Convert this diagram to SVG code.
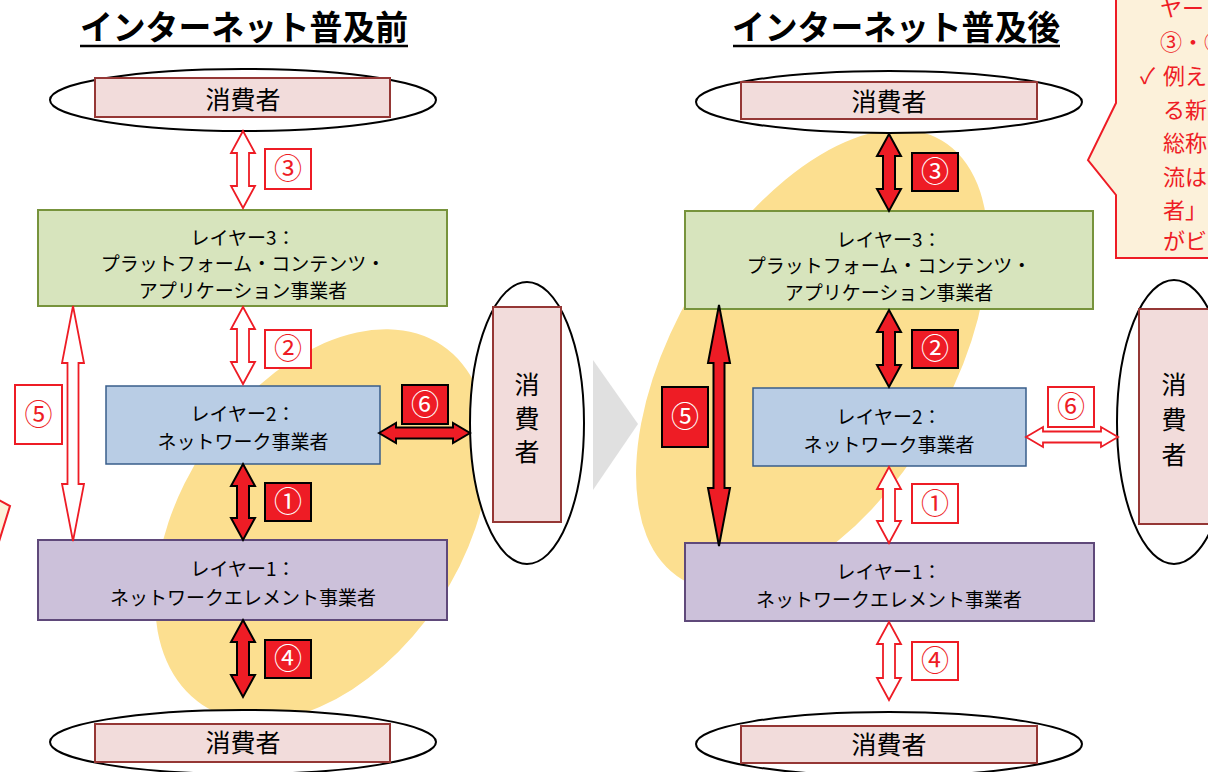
<svg xmlns="http://www.w3.org/2000/svg" width="1208" height="772" viewBox="0 0 1208 772">
<style>
text{font-family:"Noto Sans CJK JP","Noto Sans",sans-serif;fill:#000}
.title{font-size:34px;font-weight:bold;text-anchor:middle}
.bt{font-size:19px;text-anchor:middle}
.ct{font-size:25px;text-anchor:middle}
.num{font-size:28px;text-anchor:middle}
.rn{fill:#ee1c25}
.wn{fill:#fff}
.blob{fill:#fcdf90}
.ell{fill:#fff;stroke:#000;stroke-width:2}
.cons{fill:#f2dcdb;stroke:#953735;stroke-width:2}
.l3{fill:#d7e4bd;stroke:#77933c;stroke-width:2}
.l2{fill:#b9cde5;stroke:#385d8a;stroke-width:1.5}
.l1{fill:#ccc1da;stroke:#5f497a;stroke-width:2}
.ah{fill:#fff;stroke:#ee1c25;stroke-width:1.8;stroke-linejoin:miter}
.af{fill:#ee1c25;stroke:#000;stroke-width:2;stroke-linejoin:miter}
.lh{fill:#fff;stroke:#ee1c25;stroke-width:2}
.lf{fill:#ee1c25;stroke:#000;stroke-width:2}
.co{fill:#fcf1da;stroke:#ee1c25;stroke-width:2}
.ctx{font-size:22px;fill:#ee1c25}
</style>

<!-- background shapes -->
<ellipse class="blob" cx="322" cy="525" rx="216" ry="140" transform="rotate(-56.3 322 525)"/>
<ellipse class="blob" cx="812" cy="360" rx="255" ry="138" transform="rotate(-59.4 812 360)"/>
<polygon points="593,360 638,424 593,490" fill="#e0e0e0"/>
<polygon class="co" points="-3,499 10,506 -3,548"/>

<!-- titles -->
<g id="title-before">
<text class="title" x="244" y="40" textLength="328" lengthAdjust="spacingAndGlyphs">インターネット普及前</text>
<line x1="80" y1="46" x2="408" y2="46" stroke="#000" stroke-width="2.5"/>
</g>
<g id="title-after">
<text class="title" x="896" y="40" textLength="328" lengthAdjust="spacingAndGlyphs">インターネット普及後</text>
<line x1="733" y1="46" x2="1060" y2="46" stroke="#000" stroke-width="2.5"/>
</g>

<!-- LEFT nodes -->
<g id="L-consumer-top">
<ellipse class="ell" cx="243" cy="100" rx="193" ry="31"/>
<rect class="cons" x="95" y="78" width="295" height="39"/>
<text class="ct" x="243" y="109">消費者</text>
</g>
<g id="L-layer3">
<rect class="l3" x="38" y="210" width="409" height="96"/>
<text class="bt" x="243" y="245">レイヤー3：</text>
<text class="bt" x="243" y="271">プラットフォーム・コンテンツ・</text>
<text class="bt" x="243" y="298">アプリケーション事業者</text>
</g>
<g id="L-layer2">
<rect class="l2" x="106" y="386" width="274" height="78"/>
<text class="bt" x="243" y="421">レイヤー2：</text>
<text class="bt" x="243" y="449">ネットワーク事業者</text>
</g>
<g id="L-layer1">
<rect class="l1" x="38" y="540" width="409" height="80"/>
<text class="bt" x="243" y="576">レイヤー1：</text>
<text class="bt" x="243" y="605">ネットワークエレメント事業者</text>
</g>
<g id="L-consumer-bottom">
<ellipse class="ell" cx="243" cy="742" rx="193" ry="32"/>
<rect class="cons" x="95" y="724" width="295" height="38"/>
<text class="ct" x="243" y="752">消費者</text>
</g>
<g id="L-consumer-side">
<ellipse class="ell" cx="527" cy="423" rx="57" ry="141"/>
<rect class="cons" x="493" y="307" width="68" height="215"/>
<text class="ct" x="527" y="394">消</text>
<text class="ct" x="527" y="428">費</text>
<text class="ct" x="527" y="461">者</text>
</g>

<!-- RIGHT nodes -->
<g id="R-consumer-top">
<ellipse class="ell" cx="889" cy="102" rx="193" ry="31"/>
<rect class="cons" x="741" y="82" width="296" height="37"/>
<text class="ct" x="889" y="111">消費者</text>
</g>
<g id="R-layer3">
<rect class="l3" x="685" y="211" width="408" height="98"/>
<text class="bt" x="889" y="247">レイヤー3：</text>
<text class="bt" x="889" y="273">プラットフォーム・コンテンツ・</text>
<text class="bt" x="889" y="300">アプリケーション事業者</text>
</g>
<g id="R-layer2">
<rect class="l2" x="753" y="388" width="273" height="78"/>
<text class="bt" x="889" y="424">レイヤー2：</text>
<text class="bt" x="889" y="452">ネットワーク事業者</text>
</g>
<g id="R-layer1">
<rect class="l1" x="685" y="543" width="409" height="78"/>
<text class="bt" x="889" y="579">レイヤー1：</text>
<text class="bt" x="889" y="607">ネットワークエレメント事業者</text>
</g>
<g id="R-consumer-bottom">
<ellipse class="ell" cx="889" cy="744" rx="193" ry="32"/>
<rect class="cons" x="741" y="726" width="296" height="37"/>
<text class="ct" x="889" y="754">消費者</text>
</g>
<g id="R-consumer-side">
<ellipse class="ell" cx="1174" cy="422" rx="57" ry="142"/>
<rect class="cons" x="1139" y="309" width="72" height="215"/>
<text class="ct" x="1174" y="394">消</text>
<text class="ct" x="1174" y="429">費</text>
<text class="ct" x="1174" y="464">者</text>
</g>

<!-- connectors -->
<g id="connectors">
<polygon class="ah" points="243,131 255,153 249,153 249,186 255,186 243,208 231,186 237,186 237,153 231,153"/>
<polygon class="ah" points="243,307 255,329 249,329 249,362 255,362 243,384 231,362 237,362 237,329 231,329"/>
<polygon class="af" points="243,464 255,486 249,486 249,518 255,518 243,540 231,518 237,518 237,486 231,486"/>
<polygon class="af" points="243,620 255,642 249,642 249,675 255,675 243,697 231,675 237,675 237,642 231,642"/>
<polygon class="ah" points="73,306 84,363 78.5,363 78.5,484 84,484 73,541 62,484 67.5,484 67.5,363 62,363"/>
<polygon class="af" points="379,433 396,423 396,427.5 453,427.5 453,423 470,433 453,443 453,438.5 396,438.5 396,443"/>

<polygon class="af" points="889,134 901,156 895,156 895,189 901,189 889,211 877,189 883,189 883,156 877,156"/>
<polygon class="af" points="889,310 901,332 895,332 895,365 901,365 889,387 877,365 883,365 883,332 877,332"/>
<polygon class="ah" points="889,467 901,489 895,489 895,521 901,521 889,543 877,521 883,521 883,489 877,489"/>
<polygon class="ah" points="889,622 901,644 895,644 895,678 901,678 889,700 877,678 883,678 883,644 877,644"/>
<polygon class="af" points="719,305 730,363 724.5,363 724.5,488 730,488 719,546 708,488 713.5,488 713.5,363 708,363"/>
<polygon class="ah" points="1026,437 1043,427 1043,431.5 1101,431.5 1101,427 1118,437 1101,447 1101,442.5 1043,442.5 1043,447"/>
</g>

<!-- labels -->
<g id="labels">
<rect class="lh" x="265" y="149" width="46" height="40"/><text class="num rn" x="288" y="179">③</text>
<rect class="lh" x="265" y="330" width="46" height="38"/><text class="num rn" x="288" y="359">②</text>
<rect class="lf" x="265" y="483" width="46" height="38"/><text class="num wn" x="288" y="512">①</text>
<rect class="lf" x="265" y="640" width="46" height="38"/><text class="num wn" x="288" y="669">④</text>
<rect class="lh" x="15" y="385" width="47" height="59"/><text class="num rn" x="38.5" y="425">⑤</text>
<rect class="lf" x="402" y="385" width="46" height="39"/><text class="num wn" x="425" y="415">⑥</text>

<rect class="lf" x="912" y="153" width="46" height="38"/><text class="num wn" x="935" y="182">③</text>
<rect class="lf" x="912" y="330" width="46" height="38"/><text class="num wn" x="935" y="359">②</text>
<rect class="lh" x="912" y="484" width="46" height="39"/><text class="num rn" x="935" y="514">①</text>
<rect class="lh" x="912" y="642" width="46" height="38"/><text class="num rn" x="935" y="671">④</text>
<rect class="lf" x="662" y="387" width="46" height="60"/><text class="num wn" x="685" y="427">⑤</text>
<rect class="lh" x="1048" y="387" width="46" height="40"/><text class="num rn" x="1071" y="417">⑥</text>
</g>

<!-- callout -->
<g id="callout">
<polygon class="co" points="1116,-5 1116,103 1088,160 1116,195 1116,258 1215,258 1215,-5"/>
<text class="ctx" x="1160" y="16">ヤー</text>
<text class="ctx" x="1160" y="50">③・④</text>
<text class="ctx" x="1140" y="84">✓</text>
<text class="ctx" x="1163" y="84">例え</text>
<text class="ctx" x="1163" y="118">る新</text>
<text class="ctx" x="1163" y="151">総称</text>
<text class="ctx" x="1163" y="185">流は</text>
<text class="ctx" x="1163" y="218">者」の</text>
<text class="ctx" x="1163" y="249">がビ</text>
</g>
</svg>
